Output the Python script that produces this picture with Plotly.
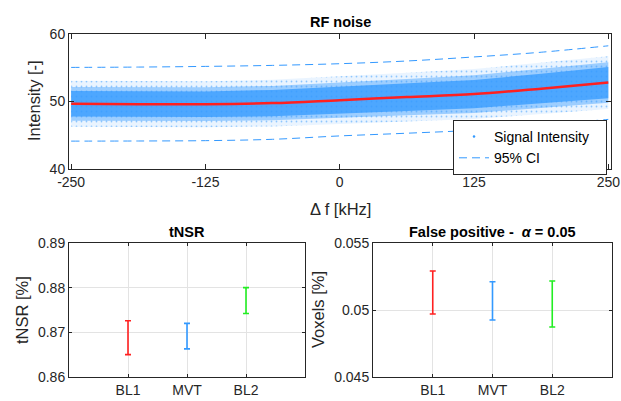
import plotly.graph_objects as go

# ---------------- data ----------------
FREQ = [-250, -187.5, -125, -62.5, 0, 62.5, 125, 187.5, 250]
FIT = [49.66, 49.6, 49.6, 49.76, 50.2, 50.65, 51.1, 51.9, 52.8]
CI_UPPER = [55.05, 55.1, 55.2, 55.35, 55.6, 56.0, 56.6, 57.3, 58.25]
CI_LOWER = [44.13, 44.15, 44.2, 44.4, 44.9, 45.3, 45.75, 46.5, 47.35]
# spread of the signal-intensity cloud around the fit
CORE_HALF = [1.9, 1.9, 1.9, 1.95, 2.0, 2.05, 2.1, 2.2, 2.3]
DENSE_HALF = [2.5, 2.5, 2.5, 2.55, 2.6, 2.7, 2.8, 2.9, 3.0]
SPARSE_HALF = [3.4, 3.4, 3.4, 3.45, 3.5, 3.6, 3.7, 3.8, 3.9]
FREQ_TICKS = [-250, -125, 0, 125, 250]

GROUPS = ["BL1", "MVT", "BL2"]
TNSR_LOW = [0.8650, 0.8663, 0.8742]
TNSR_HIGH = [0.8726, 0.8720, 0.8800]
FP_LOW = [0.0497, 0.04925, 0.04873]
FP_HIGH = [0.05291, 0.05211, 0.05216]

BLUE = "#3399ff"
RED = "#ff2020"
GREEN = "#22ee22"
GROUP_COLORS = [RED, BLUE, GREEN]
AX = "#262626"
FONT = "Liberation Sans, Arial, sans-serif"
NB = "\u00a0"

fig = go.Figure()


def band(half):
    up = [f + h for f, h in zip(FIT, half)]
    lo = [f - h for f, h in zip(FIT, half)]
    return FREQ + FREQ[::-1], up + lo[::-1]


# cloud: sparse outer dots, denser fringe, solid core
bx, by = band(SPARSE_HALF)
fig.add_trace(go.Scatter(x=bx, y=by, fill="toself", mode="lines", line=dict(width=0),
                         fillcolor="rgba(51,153,255,0.10)", showlegend=False, hoverinfo="skip",
                         fillpattern=dict(shape=".", fgcolor=BLUE, bgcolor="rgba(51,153,255,0.10)",
                                          size=5, solidity=0.1),
                         xaxis="x", yaxis="y"))
bx, by = band(DENSE_HALF)
fig.add_trace(go.Scatter(x=bx, y=by, fill="toself", mode="lines", line=dict(width=0),
                         fillcolor="rgba(51,153,255,0.42)", showlegend=False, hoverinfo="skip",
                         xaxis="x", yaxis="y"))
bx, by = band(CORE_HALF)
fig.add_trace(go.Scatter(x=bx, y=by, fill="toself", mode="lines", line=dict(width=0),
                         fillcolor="rgba(51,153,255,0.75)", showlegend=False, hoverinfo="skip",
                         xaxis="x", yaxis="y"))

# legend entry for the point cloud
fig.add_trace(go.Scatter(x=[None], y=[None], mode="markers", name="Signal Intensity" + NB * 3,
                         marker=dict(color=BLUE, size=2.5), xaxis="x", yaxis="y"))

fig.add_trace(go.Scatter(x=FREQ, y=FIT, mode="lines", line=dict(color=RED, width=2.5, shape="spline"),
                         showlegend=False, xaxis="x", yaxis="y"))
fig.add_trace(go.Scatter(x=FREQ, y=CI_UPPER, mode="lines", name="95% CI",
                         line=dict(color=BLUE, width=1, dash="8px,5px", shape="spline"),
                         xaxis="x", yaxis="y"))
fig.add_trace(go.Scatter(x=FREQ, y=CI_LOWER, mode="lines", showlegend=False,
                         line=dict(color=BLUE, width=1, dash="8px,5px", shape="spline"),
                         xaxis="x", yaxis="y"))

# error bars
xpos = [1, 2, 3]
for i, c in enumerate(GROUP_COLORS):
    mid = (TNSR_LOW[i] + TNSR_HIGH[i]) / 2
    fig.add_trace(go.Scatter(x=[xpos[i]], y=[mid], mode="markers",
                             marker=dict(size=1, color="rgba(0,0,0,0)"), showlegend=False,
                             error_y=dict(type="data", symmetric=False,
                                          array=[TNSR_HIGH[i] - mid], arrayminus=[mid - TNSR_LOW[i]],
                                          color=c, thickness=1.6, width=3),
                             xaxis="x2", yaxis="y2"))
    mid = (FP_LOW[i] + FP_HIGH[i]) / 2
    fig.add_trace(go.Scatter(x=[xpos[i]], y=[mid], mode="markers",
                             marker=dict(size=1, color="rgba(0,0,0,0)"), showlegend=False,
                             error_y=dict(type="data", symmetric=False,
                                          array=[FP_HIGH[i] - mid], arrayminus=[mid - FP_LOW[i]],
                                          color=c, thickness=1.6, width=3),
                             xaxis="x3", yaxis="y3"))

W, H = 621, 401


def px_x(a, b):
    return [a / W, b / W]


def px_y(top, bottom):
    return [(H - bottom) / H, (H - top) / H]


axis_common = dict(showline=True, linecolor=AX, linewidth=1, mirror="ticks", ticks="inside",
                   tickcolor=AX, tickfont=dict(family=FONT, size=14, color=AX), zeroline=False,
                   automargin=False)

fig.update_layout(
    width=W, height=H, margin=dict(l=0, r=0, t=0, b=0, autoexpand=False),
    paper_bgcolor="white", plot_bgcolor="white",
    font=dict(family=FONT, color=AX),
    xaxis=dict(domain=px_x(69, 611), range=[-252, 252.5], tickvals=FREQ_TICKS,
               ticktext=[str(v) for v in FREQ_TICKS], ticklen=5, showgrid=False,
               anchor="y", **axis_common),
    yaxis=dict(domain=px_y(34, 169), range=[40, 60], tickvals=[40, 50, 60], ticklen=5,
               showgrid=False, anchor="x", **axis_common),
    xaxis2=dict(domain=px_x(69, 305), range=[0, 4], tickvals=xpos, ticktext=GROUPS, ticklen=3,
                showgrid=True, gridcolor="#e3e3e3", anchor="y2", **axis_common),
    yaxis2=dict(domain=px_y(243, 377), range=[0.86, 0.89], tickvals=[0.86, 0.87, 0.88, 0.89],
                ticktext=["0.86", "0.87", "0.88", "0.89"], ticklen=3,
                showgrid=True, gridcolor="#e3e3e3", anchor="x2", **axis_common),
    xaxis3=dict(domain=px_x(373, 612), range=[0, 4], tickvals=xpos, ticktext=GROUPS, ticklen=3,
                showgrid=True, gridcolor="#e3e3e3", anchor="y3", **axis_common),
    yaxis3=dict(domain=px_y(243, 377), range=[0.045, 0.055], tickvals=[0.045, 0.05, 0.055],
                ticktext=["0.045", "0.05", "0.055"], ticklen=3,
                showgrid=True, gridcolor="#e3e3e3", anchor="x3", **axis_common),
    legend=dict(x=607 / W, y=(H - 120) / H, xanchor="right", yanchor="top",
                bgcolor="white", bordercolor=AX, borderwidth=1,
                font=dict(family=FONT, size=14, color="black"),
                tracegroupgap=0, itemwidth=30),
    showlegend=True,
)

ann = [
    dict(text="<b>RF noise</b>", x=340 / W, y=(H - 22) / H, size=14.5, angle=0),
    dict(text="<b>tNSR</b>", x=187 / W, y=(H - 232) / H, size=14.5, angle=0),
    dict(text="<b>False positive -  <i>α</i> = 0.05</b>", x=492 / W, y=(H - 232) / H, size=14.5, angle=0),
    dict(text="Δ f [kHz]", x=340 / W, y=(H - 209) / H, size=16.5, angle=0),
    dict(text="Intensity [-]", x=34 / W, y=(H - 101) / H, size=16.5, angle=-90),
    dict(text="tNSR [%]", x=22 / W, y=(H - 310) / H, size=16.5, angle=-90),
    dict(text="Voxels [%]", x=318 / W, y=(H - 310) / H, size=16.5, angle=-90),
]
for a in ann:
    fig.add_annotation(text=a["text"], x=a["x"], y=a["y"], xref="paper", yref="paper",
                       xanchor="center", yanchor="middle", showarrow=False, textangle=a["angle"],
                       font=dict(family=FONT, size=a["size"], color="black" if a["text"].startswith("<b>") else AX))

fig.write_html("out.html", config={"displayModeBar": False},
               post_script="document.body.style.margin='0';document.body.style.overflow='hidden';")
